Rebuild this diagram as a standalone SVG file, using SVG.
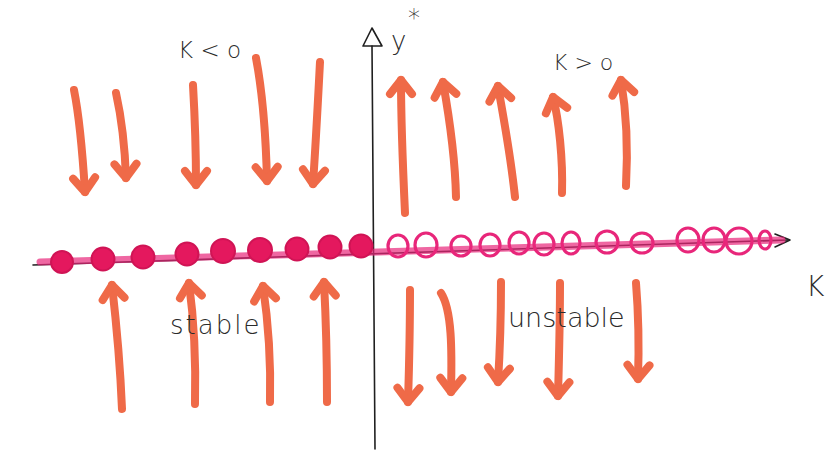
<svg xmlns="http://www.w3.org/2000/svg" width="828" height="451" viewBox="0 0 828 451">
  <style>
    .ink { stroke: #1f1f1f; stroke-width: 1.6; fill: none; stroke-linecap: round; stroke-linejoin: round; }
    .flow { stroke: #ef6a48; stroke-width: 8; fill: none; stroke-linecap: round; }
    .stable { fill: #e4185e; stroke: #d01455; stroke-width: 2; }
    .unstable { fill: none; stroke: #e8267a; stroke-width: 3.2; }
    .note { font-family: "DejaVu Sans", sans-serif; fill: #2a2a2a; font-weight: 300; }
  </style>
  <defs>
    <marker id="head" markerUnits="userSpaceOnUse" orient="auto" refX="0" refY="0" markerWidth="30" markerHeight="30" overflow="visible">
      <path d="M-14,-11 L0,0 L-14,11" stroke="#ef6a48" stroke-width="8" fill="none" stroke-linejoin="round" stroke-linecap="round"/>
    </marker>
  </defs>
  <rect width="828" height="451" fill="#ffffff"/>

  <!-- coordinate axes -->
  <g id="axes">
    <path class="ink" d="M375,449 C374,330 373,200 372,46"/>
    <path class="ink" d="M372,28 L363,46 L382,46 Z"/>
    <path class="ink" d="M33,265 L788,240"/>
    <path class="ink" d="M775,234 L790,240 L775,247"/>
  </g>

  <!-- line of equilibria: thick pink band -->
  <g id="equilibria-band">
    <path d="M40,262 L782,240" stroke="#e8267a" stroke-width="7" stroke-opacity="0.7" fill="none" stroke-linecap="round"/>
  </g>

  <!-- stable equilibria for K < 0 -->
  <g id="stable-points">
    <circle class="stable" cx="62" cy="262" r="11"/>
    <circle class="stable" cx="103" cy="259" r="11.5"/>
    <circle class="stable" cx="143" cy="257" r="11.5"/>
    <circle class="stable" cx="187" cy="254" r="11.5"/>
    <circle class="stable" cx="223" cy="251" r="12"/>
    <circle class="stable" cx="260" cy="250" r="12"/>
    <circle class="stable" cx="297" cy="249" r="11.5"/>
    <circle class="stable" cx="330" cy="247" r="11.5"/>
    <circle class="stable" cx="361" cy="246" r="11.5"/>
  </g>

  <!-- unstable equilibria for K > 0 -->
  <g id="unstable-points">
    <ellipse class="unstable" cx="398" cy="246" rx="10" ry="11"/>
    <ellipse class="unstable" cx="426" cy="245" rx="11" ry="12"/>
    <ellipse class="unstable" cx="461" cy="246" rx="10" ry="10"/>
    <ellipse class="unstable" cx="490" cy="245" rx="10" ry="11"/>
    <ellipse class="unstable" cx="519" cy="243" rx="10" ry="11"/>
    <ellipse class="unstable" cx="544" cy="244" rx="10" ry="11"/>
    <ellipse class="unstable" cx="571" cy="243" rx="9" ry="11"/>
    <ellipse class="unstable" cx="607" cy="242" rx="11" ry="11"/>
    <ellipse class="unstable" cx="642" cy="243" rx="11" ry="10"/>
    <ellipse class="unstable" cx="688" cy="240" rx="11" ry="12"/>
    <ellipse class="unstable" cx="714" cy="240" rx="11" ry="12"/>
    <ellipse class="unstable" cx="739" cy="241" rx="13" ry="13"/>
    <ellipse class="unstable" cx="765" cy="240" rx="6" ry="9"/>
  </g>

  <!-- flow directions -->
  <g id="flow-arrows">
    <!-- K < 0, above the axis: flow down -->
    <path class="flow" marker-end="url(#head)" d="M74,90 C80,120 83,160 85,192"/>
    <path class="flow" marker-end="url(#head)" d="M116,93 C122,120 125,150 126,178"/>
    <path class="flow" marker-end="url(#head)" d="M193,85 C195,120 196,150 196,185"/>
    <path class="flow" marker-end="url(#head)" d="M256,58 C264,100 266,140 267,181"/>
    <path class="flow" marker-end="url(#head)" d="M320,62 C318,100 316,140 313,184"/>
    <!-- K > 0, above the axis: flow up -->
    <path class="flow" marker-end="url(#head)" d="M405,213 C403,170 401,120 401,80"/>
    <path class="flow" marker-end="url(#head)" d="M456,197 C455,150 448,110 443,82"/>
    <path class="flow" marker-end="url(#head)" d="M515,197 C510,150 502,110 498,86"/>
    <path class="flow" marker-end="url(#head)" d="M562,193 C563,160 559,120 553,97"/>
    <path class="flow" marker-end="url(#head)" d="M626,186 C628,150 626,110 621,80"/>
    <!-- K < 0, below the axis: flow up -->
    <path class="flow" marker-end="url(#head)" d="M122,409 C120,360 116,320 112,285"/>
    <path class="flow" marker-end="url(#head)" d="M195,404 C196,360 194,320 189,283"/>
    <path class="flow" marker-end="url(#head)" d="M270,402 C271,360 268,320 263,286"/>
    <path class="flow" marker-end="url(#head)" d="M327,402 C327,360 326,320 324,282"/>
    <!-- K > 0, below the axis: flow down -->
    <path class="flow" marker-end="url(#head)" d="M410,290 C410,330 409,370 408,402"/>
    <path class="flow" marker-end="url(#head)" d="M441,293 C452,310 452,350 451,392"/>
    <path class="flow" marker-end="url(#head)" d="M501,282 C501,320 500,350 498,382"/>
    <path class="flow" marker-end="url(#head)" d="M560,283 C560,320 559,360 558,396"/>
    <path class="flow" marker-end="url(#head)" d="M636,283 C639,320 639,350 638,379"/>
  </g>

  <!-- labels -->
  <g id="labels">
    <text class="note" x="178" y="58" font-size="23">K &lt; o</text>
    <text class="note" x="553" y="70" font-size="22">K &gt; o</text>
    <text class="note" x="391" y="50" font-size="26">y</text>
    <text class="note" x="408" y="26" font-size="24" font-weight="400">*</text>
    <text class="note" x="806" y="296" font-size="28">K</text>
    <text class="note" x="170" y="334" font-size="26" letter-spacing="2">stable</text>
    <text class="note" x="508" y="327" font-size="27">unstable</text>
  </g>
</svg>
